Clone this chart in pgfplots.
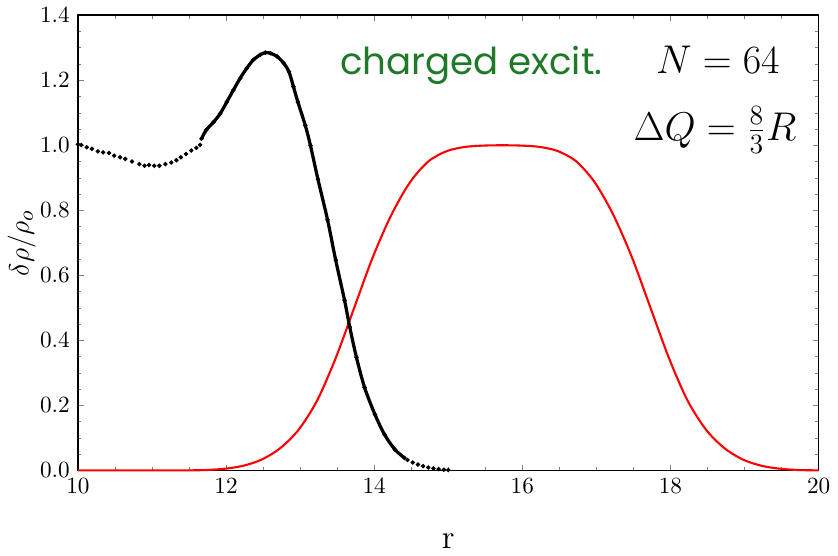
\documentclass[border=0pt]{standalone}
\usepackage{fontspec}
\usepackage{pgfplots}
\pgfplotsset{compat=1.18}
\newfontfamily\comicfont{Poppins}
\definecolor{excitgreen}{RGB}{30,122,40}

% red: plateau profile
\pgfplotstableread{
x y
10.00 0.000
11.00 0.000
11.46 0.000
11.73 0.001
11.98 0.005
12.23 0.014
12.48 0.033
12.73 0.068
12.98 0.125
13.23 0.215
13.48 0.345
13.73 0.500
13.98 0.655
14.23 0.785
14.48 0.885
14.73 0.950
14.98 0.982
15.23 0.995
15.48 0.999
15.73 1.000
15.98 0.999
16.23 0.995
16.48 0.982
16.73 0.950
16.98 0.885
17.23 0.785
17.48 0.655
17.73 0.500
17.98 0.345
18.23 0.215
18.48 0.125
18.73 0.068
18.98 0.033
19.23 0.014
19.48 0.005
19.73 0.001
20.00 0.000
}\redtab

% black: left dotted part
\pgfplotstableread{
x y
10.00 1.003
10.045 1.001
10.12 0.994
10.19 0.989
10.27 0.981
10.34 0.978
10.42 0.976
10.49 0.968
10.57 0.963
10.64 0.958
10.73 0.950
10.83 0.942
10.90 0.937
10.96 0.939
11.03 0.937
11.10 0.937
11.18 0.942
11.26 0.947
11.33 0.954
11.39 0.963
11.46 0.973
11.53 0.984
11.60 0.992
11.65 1.001
}\blackleft

% black: dense middle part
\pgfplotstableread{
x y
11.67 1.020
11.73 1.046
11.83 1.071
11.92 1.097
12.01 1.133
12.10 1.170
12.19 1.206
12.28 1.237
12.37 1.263
12.46 1.278
12.53 1.285
12.60 1.283
12.69 1.273
12.78 1.252
12.85 1.226
12.91 1.180
12.97 1.133
13.07 1.061
13.14 0.999
13.24 0.896
13.37 0.771
13.48 0.647
13.60 0.523
13.67 0.441
13.76 0.348
13.87 0.255
14.01 0.172
14.14 0.110
14.28 0.064
14.41 0.038
}\blackmid

% black: right dotted tail
\pgfplotstableread{
x y
14.45 0.032
14.52 0.024
14.59 0.018
14.66 0.013
14.73 0.009
14.80 0.006
14.87 0.004
14.94 0.002
15.00 0.001
}\blackright

\begin{document}
\begin{tikzpicture}
\begin{axis}[
  scale only axis,
  width=319pt, height=196pt,
  xmin=10, xmax=20, ymin=0, ymax=1.4,
  xtick={10,12,14,16,18,20},
  ytick={0,0.2,0.4,0.6,0.8,1.0,1.2,1.4},
  minor tick num=3,
  tick align=inside,
  major tick length=2.5pt, minor tick length=1.5pt,
  y tick label style={/pgf/number format/.cd, fixed, fixed zerofill, precision=1},
  axis line style={line width=0.7pt},
  xlabel={\Large r},
  ylabel={\fontsize{13}{15}\selectfont$\delta\rho/\rho_o$},
  xlabel style={at={(axis description cs:0.5,0)}, anchor=south, yshift=-37pt},
  ylabel style={at={(axis description cs:-0.046,0.5)}, anchor=south},
  clip=false,
]
\addplot[red, line width=0.9pt, smooth, no marks] table {\redtab};
\addplot[black, only marks, mark=*, mark size=0.75pt] table {\blackleft};
\addplot[black, line width=1.4pt, smooth, no marks] table {\blackmid};
\addplot[black, only marks, mark=*, mark size=0.75pt] table {\blackmid};
\addplot[black, only marks, mark=*, mark size=0.75pt] table {\blackright};

\node[anchor=base, text=excitgreen, font=\comicfont\fontsize{16}{18}\selectfont] at (axis cs:15.31,1.217) {charged excit.};
\node[anchor=base, font=\fontsize{18}{20}\selectfont] at (axis cs:18.64,1.22) {$N=64$};
\node[anchor=base, font=\fontsize{18}{20}\selectfont] at (axis cs:18.6,1.016) {$\Delta Q=\frac{8}{3}R$};
\end{axis}
\path (current axis.north east) ++(7.8pt,0) node[inner sep=0pt]{};
\end{tikzpicture}
\end{document}
